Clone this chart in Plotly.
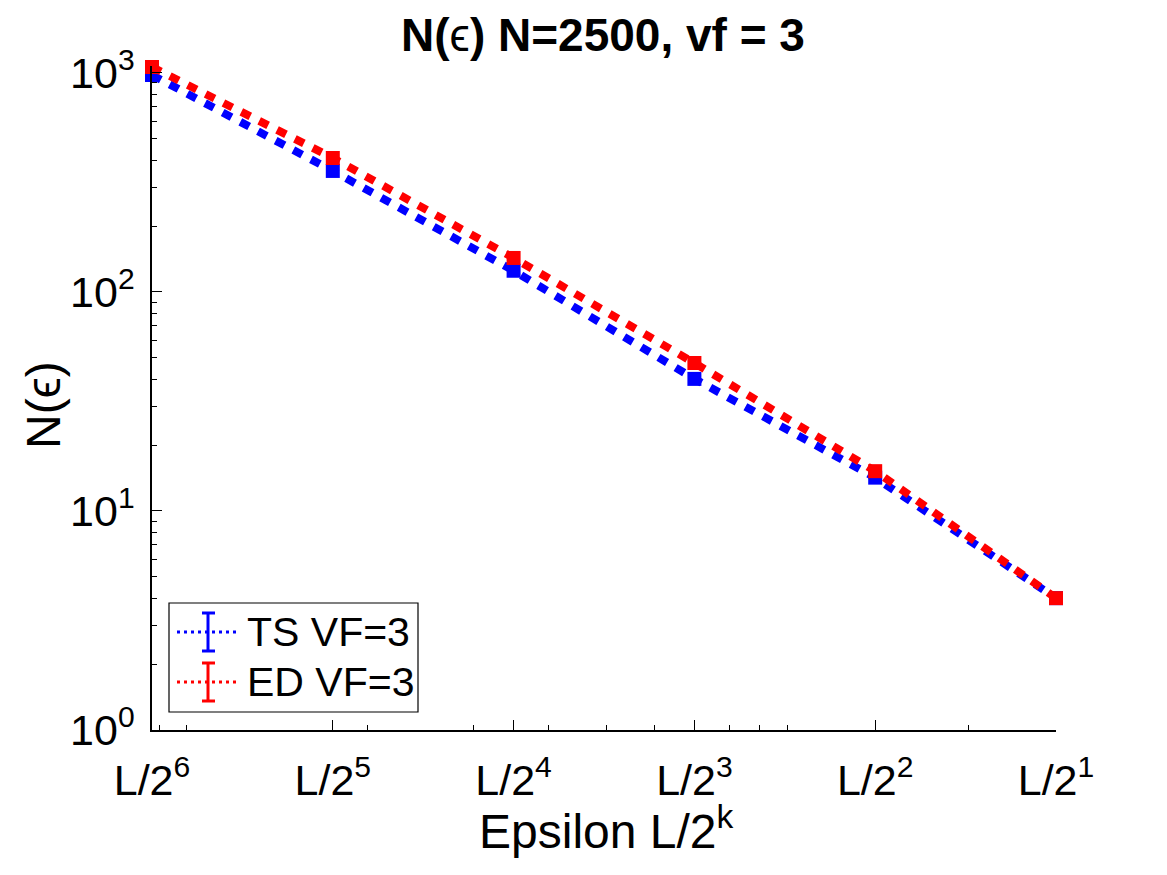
import numpy as np
import plotly.graph_objects as go

# box-counting result, epsilon = L/2^k (L)
L = 56.0
K = [6, 5, 4, 3, 2, 1]
TS_VF3 = [979, 357, 125, 40.1, 14.2, 4.0]
ED_VF3 = [1065, 409, 143, 47.4, 15.2, 4.0]

X_TICK_TEXT = ["L/2<sup>6</sup>", "L/2<sup>5</sup>", "L/2<sup>4</sup>",
               "L/2<sup>3</sup>", "L/2<sup>2</sup>", "L/2<sup>1</sup>"]
Y_TICKS = [1, 10, 100, 1000]
Y_TICK_TEXT = ["10<sup>0</sup>", "10<sup>1</sup>", "10<sup>2</sup>", "10<sup>3</sup>"]

FONT = "Liberation Sans, Arial, Helvetica, sans-serif"

# page body has an 8px margin, so the figure is shrunk by that much
OFF = 8
W, H = 1167 - OFF, 875 - OFF
# plot area in window pixels
X0, X1, Y0, Y1 = 152, 1056, 66, 730
PW, PH = X1 - X0, Y1 - Y0

eps = [L / 2 ** k for k in K]
x_minor = [m * 10.0 ** e for e in (-1, 0, 1) for m in range(1, 10)]
x_minor = [v for v in x_minor if eps[0] <= v <= eps[-1]]
y_minor = [m * 10.0 ** e for e in (0, 1, 2) for m in range(2, 10)]


def px(x):
    return (x - X0) / PW


def py(y):
    return (Y1 - y) / PH


fig = go.Figure()
for name, vals, color in [("TS VF=3", TS_VF3, "#0000FF"), ("ED VF=3", ED_VF3, "#FF0000")]:
    fig.add_trace(go.Scatter(
        x=eps, y=vals, name=name, mode="lines+markers",
        line=dict(color=color, width=8, dash="10px,10px"),
        marker=dict(symbol="square", size=14, color=color),
        cliponaxis=False, showlegend=False,
    ))

# hand-made legend in MATLAB style (dotted line + errorbar glyph)
shapes = [dict(type="rect", xref="paper", yref="paper",
               x0=px(169), x1=px(418), y0=py(712), y1=py(603),
               line=dict(color="black", width=1.2), fillcolor="white", layer="above")]
annotations = []
for yc, color, label in [(632, "#0000FF", "TS VF=3"), (682, "#FF0000", "ED VF=3")]:
    shapes.append(dict(type="line", xref="paper", yref="paper",
                       x0=px(177), x1=px(238), y0=py(yc), y1=py(yc),
                       line=dict(color=color, width=3, dash="3px,4px"), layer="above"))
    shapes.append(dict(type="line", xref="paper", yref="paper",
                       x0=px(208), x1=px(208), y0=py(yc - 19), y1=py(yc + 19),
                       line=dict(color=color, width=3), layer="above"))
    for yy in (yc - 19, yc + 19):
        shapes.append(dict(type="line", xref="paper", yref="paper",
                           x0=px(202), x1=px(215), y0=py(yy), y1=py(yy),
                           line=dict(color=color, width=3), layer="above"))
    annotations.append(dict(text=label, xref="paper", yref="paper",
                            x=px(245), y=py(yc), xanchor="left", yanchor="middle",
                            showarrow=False, font=dict(size=41, color="black", family=FONT)))

annotations.append(dict(text="Epsilon L/2<sup>k</sup>", xref="paper", yref="paper",
                        x=px(606), y=py(828), xanchor="center", yanchor="middle",
                        showarrow=False, font=dict(size=48, color="black", family=FONT)))
annotations.append(dict(text="N(ϵ)", xref="paper", yref="paper",
                        x=px(43), y=py(405), xanchor="center", yanchor="middle", textangle=-90,
                        showarrow=False, font=dict(size=48, color="black", family=FONT)))

fig.update_layout(
    width=W, height=H,
    margin=dict(l=X0 - OFF, r=1167 - X1, t=Y0 - OFF, b=875 - Y1, autoexpand=False),
    paper_bgcolor="white", plot_bgcolor="white",
    font=dict(family=FONT, color="black"),
    title=dict(text="<b>N(</b>ϵ<b>) N=2500, vf = 3</b>", x=px(603), xref="paper",
               xanchor="center", y=1 - (35 - OFF) / H, yref="container", yanchor="middle",
               font=dict(size=46, color="black", family=FONT)),
    shapes=shapes, annotations=annotations,
)
fig.update_xaxes(
    type="log", range=[np.log10(eps[0]), np.log10(eps[-1])],
    tickmode="array", tickvals=eps, ticktext=X_TICK_TEXT,
    tickfont=dict(size=43), ticks="inside", ticklen=10, tickwidth=1.2, tickcolor="black",
    ticklabelstandoff=12,
    showline=True, linecolor="black", linewidth=1.5, showgrid=False, zeroline=False,
    minor=dict(tickmode="array", tickvals=x_minor, ticks="inside", ticklen=5,
               tickwidth=1.2, tickcolor="black", showgrid=False),
)
fig.update_yaxes(
    type="log", range=[0, np.log10(1076)],
    tickmode="array", tickvals=Y_TICKS, ticktext=Y_TICK_TEXT,
    tickfont=dict(size=43), ticks="inside", ticklen=10, tickwidth=1.2, tickcolor="black",
    ticklabelstandoff=7,
    showline=True, linecolor="black", linewidth=1.5, showgrid=False, zeroline=False,
    minor=dict(tickmode="array", tickvals=y_minor, ticks="inside", ticklen=5,
               tickwidth=1.2, tickcolor="black", showgrid=False),
)

fig.write_html("out.html")
